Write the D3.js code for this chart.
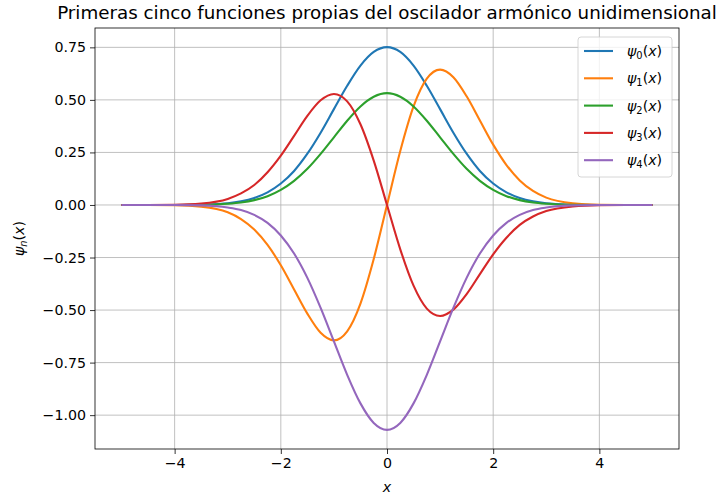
<!DOCTYPE html>
<html>
<head>
<meta charset="utf-8">
<script src="https://cdn.jsdelivr.net/npm/d3@7"></script>
<style>
  html, body { margin: 0; padding: 0; background: #fff; }
  svg { display: block; font-family: "DejaVu Sans", sans-serif; }
</style>
</head>
<body>
<svg id="chart" width="718" height="500"></svg>
<script>
// ---- Data ----
const xs = [-5, -4.5, -4, -3.5, -3, -2.75, -2.5, -2.25, -2, -1.75, -1.5, -1.25, -1, -0.75, -0.5, -0.25,
            0, 0.25, 0.5, 0.75, 1, 1.25, 1.5, 1.75, 2, 2.25, 2.5, 2.75, 3, 3.5, 4, 4.5, 5];

const psi0 = [0, 0, 0.000, 0.002, 0.008, 0.017, 0.033, 0.060, 0.102, 0.162, 0.244, 0.344, 0.456, 0.567, 0.663, 0.728,
              0.751, 0.728, 0.663, 0.567, 0.456, 0.344, 0.244, 0.162, 0.102, 0.060, 0.033, 0.017, 0.008, 0.002, 0.000, 0, 0];

const psi1 = [0, 0, -0.001, -0.008, -0.035, -0.067, -0.117, -0.190, -0.287, -0.402, -0.517, -0.608, -0.644, -0.601, -0.469, -0.257,
              0, 0.257, 0.469, 0.601, 0.644, 0.608, 0.517, 0.402, 0.287, 0.190, 0.117, 0.067, 0.035, 0.008, 0.001, 0, 0];

const psi2 = [0, 0, 0.000, 0.001, 0.006, 0.012, 0.023, 0.042, 0.072, 0.115, 0.172, 0.243, 0.322, 0.401, 0.469, 0.515,
              0.532, 0.515, 0.469, 0.401, 0.322, 0.243, 0.172, 0.115, 0.072, 0.042, 0.023, 0.012, 0.006, 0.001, 0.000, 0, 0];

const psi3 = [0, 0, 0.001, 0.007, 0.029, 0.055, 0.095, 0.156, 0.235, 0.329, 0.424, 0.498, 0.528, 0.493, 0.384, 0.211,
              0, -0.211, -0.384, -0.493, -0.528, -0.498, -0.424, -0.329, -0.235, -0.156, -0.095, -0.055, -0.029, -0.007, -0.001, 0, 0];

const psi4 = [0, 0, -0.000, -0.002, -0.012, -0.024, -0.047, -0.085, -0.145, -0.231, -0.347, -0.490, -0.649, -0.808, -0.944, -1.037,
              -1.070, -1.037, -0.944, -0.808, -0.649, -0.490, -0.347, -0.231, -0.145, -0.085, -0.047, -0.024, -0.012, -0.002, -0.000, 0, 0];

const seriesNames = ["0", "1", "2", "3", "4"];
const seriesValues = [psi0, psi1, psi2, psi3, psi4];
const colors = ["#1f77b4", "#ff7f0e", "#2ca02c", "#d62728", "#9467bd"];

const xTicks = [-4, -2, 0, 2, 4];
const yTicks = [-1.0, -0.75, -0.5, -0.25, 0, 0.25, 0.5, 0.75];

const titleText = "Primeras cinco funciones propias del oscilador armónico unidimensional";

// ---- Layout ----
const W = 718, H = 500;
const plot = { left: 95, right: 679, top: 28, bottom: 449 };

const svg = d3.select("#chart");

const xMin = d3.min(xs), xMax = d3.max(xs);
const xPad = (xMax - xMin) * 0.05;
const allY = seriesValues.flat();
const yMin = d3.min(allY), yMax = d3.max(allY);
const yPad = (yMax - yMin) * 0.05;

const x = d3.scaleLinear().domain([xMin - xPad, xMax + xPad]).range([plot.left, plot.right]);
const y = d3.scaleLinear().domain([yMin - yPad, yMax + yPad]).range([plot.bottom, plot.top]);

const fmtMinus = s => s.replace("-", "\u2212");

// Grid
const grid = svg.append("g");
grid.selectAll("line.vx").data(xTicks).enter().append("line")
  .attr("x1", d => x(d)).attr("x2", d => x(d))
  .attr("y1", plot.top).attr("y2", plot.bottom)
  .attr("stroke", "#b0b0b0").attr("stroke-width", 0.8);
grid.selectAll("line.hy").data(yTicks).enter().append("line")
  .attr("y1", d => y(d)).attr("y2", d => y(d))
  .attr("x1", plot.left).attr("x2", plot.right)
  .attr("stroke", "#b0b0b0").attr("stroke-width", 0.8);

// Lines
const line = d3.line().x(d => x(d[0])).y(d => y(d[1])).curve(d3.curveMonotoneX);
seriesValues.forEach((vals, i) => {
  svg.append("path")
    .datum(xs.map((xv, j) => [xv, vals[j]]))
    .attr("fill", "none")
    .attr("stroke", colors[i])
    .attr("stroke-width", 2.1)
    .attr("stroke-linejoin", "round")
    .attr("d", line);
});

// Axes
const xAxis = d3.axisBottom(x).tickValues(xTicks).tickSize(5).tickPadding(4)
  .tickFormat(d => fmtMinus(d3.format("d")(d)));
const yAxis = d3.axisLeft(y).tickValues(yTicks).tickSize(5).tickPadding(4)
  .tickFormat(d => fmtMinus(d3.format(".2f")(d)));

const gx = svg.append("g").attr("transform", `translate(0,${plot.bottom})`).call(xAxis);
const gy = svg.append("g").attr("transform", `translate(${plot.left},0)`).call(yAxis);
[gx, gy].forEach(g => {
  g.select(".domain").remove();
  g.selectAll(".tick line").attr("stroke", "#000").attr("stroke-width", 0.8);
  g.selectAll(".tick text").attr("fill", "#000")
    .style("font-family", "DejaVu Sans, sans-serif").style("font-size", "14.2px");
});

// Frame
svg.append("rect")
  .attr("x", plot.left).attr("y", plot.top)
  .attr("width", plot.right - plot.left).attr("height", plot.bottom - plot.top)
  .attr("fill", "none").attr("stroke", "#000").attr("stroke-width", 0.8);

// Title
svg.append("text")
  .attr("x", (plot.left + plot.right) / 2).attr("y", 19)
  .attr("text-anchor", "middle")
  .style("font-size", "18.3px").attr("fill", "#000")
  .text(titleText);

// X label
svg.append("text")
  .attr("x", (plot.left + plot.right) / 2).attr("y", 492)
  .attr("text-anchor", "middle")
  .style("font-size", "14.2px").style("font-style", "italic").attr("fill", "#000")
  .text("x");

// Y label
const yl = svg.append("text")
  .attr("transform", `translate(24,${(plot.top + plot.bottom) / 2}) rotate(-90)`)
  .attr("text-anchor", "middle")
  .style("font-size", "14.2px").attr("fill", "#000");
yl.append("tspan").style("font-style", "italic").text("ψ");
yl.append("tspan").style("font-style", "italic").style("font-size", "9.9px").attr("dy", 3).text("n");
yl.append("tspan").attr("dy", -3).text("(");
yl.append("tspan").style("font-style", "italic").text("x");
yl.append("tspan").text(")");

// Legend
const leg = { x: 578, y: 37, w: 94, h: 140 };
svg.append("rect")
  .attr("x", leg.x).attr("y", leg.y).attr("width", leg.w).attr("height", leg.h)
  .attr("rx", 3).attr("ry", 3)
  .attr("fill", "#fff").attr("fill-opacity", 0.8)
  .attr("stroke", "#cccccc").attr("stroke-width", 0.8);

seriesNames.forEach((n, i) => {
  const cy = 51 + i * 27.3;
  svg.append("line")
    .attr("x1", 584).attr("x2", 613).attr("y1", cy).attr("y2", cy)
    .attr("stroke", colors[i]).attr("stroke-width", 2.1);
  const t = svg.append("text")
    .attr("x", 627).attr("y", cy + 5)
    .style("font-size", "14.2px").attr("fill", "#000");
  t.append("tspan").style("font-style", "italic").text("ψ");
  t.append("tspan").style("font-size", "9.9px").attr("dy", 3).text(n);
  t.append("tspan").attr("dy", -3).text("(");
  t.append("tspan").style("font-style", "italic").text("x");
  t.append("tspan").text(")");
});
</script>
</body>
</html>
